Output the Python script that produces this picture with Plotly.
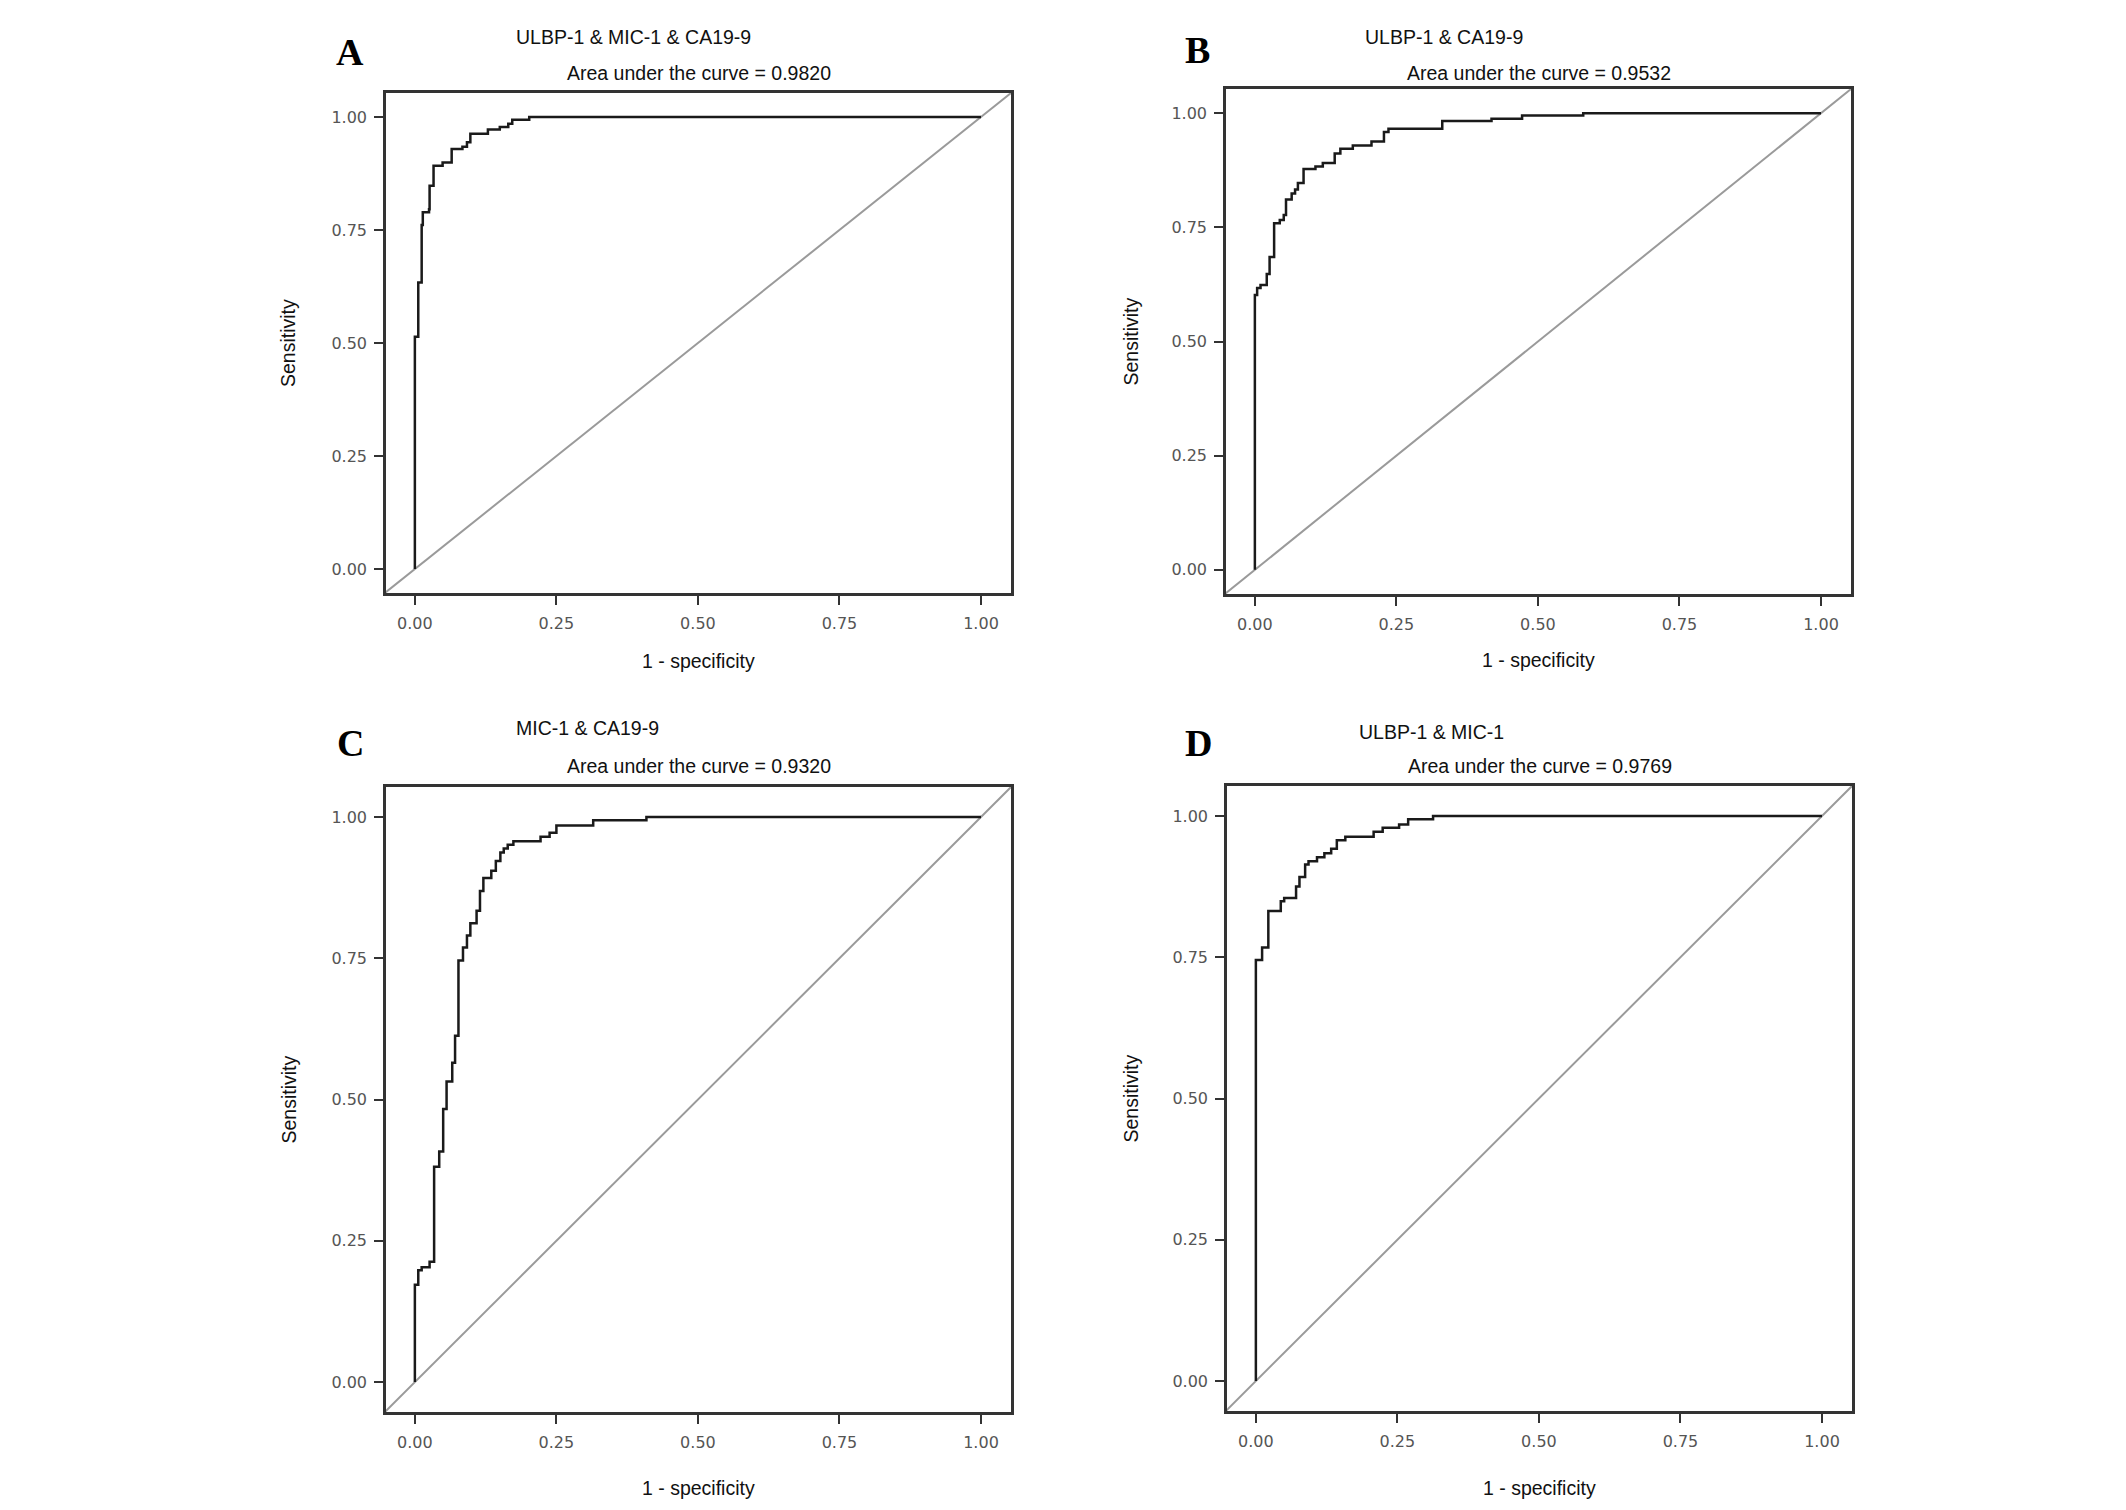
import plotly.graph_objects as go

# ROC curves (1 - specificity, sensitivity)
fpr_a = [0, 0, 0.006, 0.012, 0.014, 0.025, 0.026, 0.033, 0.049, 0.065, 0.084, 0.092,
         0.098, 0.129, 0.150, 0.165, 0.172, 0.202, 1.0]
tpr_a = [0, 0.514, 0.634, 0.761, 0.789, 0.796, 0.848, 0.892, 0.899, 0.929, 0.934, 0.944,
         0.963, 0.972, 0.978, 0.985, 0.994, 1.0, 1.0]

fpr_b = [0, 0, 0.004, 0.010, 0.021, 0.026, 0.034, 0.044, 0.051, 0.055, 0.065, 0.071,
         0.076, 0.086, 0.107, 0.120, 0.141, 0.151, 0.173, 0.206, 0.228, 0.236, 0.331,
         0.418, 0.472, 0.58, 1.0]
tpr_b = [0, 0.602, 0.617, 0.624, 0.648, 0.685, 0.759, 0.766, 0.777, 0.811, 0.824, 0.833,
         0.847, 0.878, 0.883, 0.891, 0.912, 0.922, 0.929, 0.938, 0.959, 0.966, 0.983,
         0.988, 0.995, 1.0, 1.0]

fpr_c = [0, 0, 0.006, 0.012, 0.026, 0.034, 0.043, 0.050, 0.056, 0.066, 0.071, 0.077,
         0.085, 0.092, 0.098, 0.109, 0.115, 0.121, 0.135, 0.143, 0.151, 0.157, 0.164,
         0.174, 0.222, 0.238, 0.250, 0.315, 0.409, 1.0]
tpr_c = [0, 0.172, 0.198, 0.203, 0.213, 0.381, 0.408, 0.483, 0.532, 0.565, 0.613, 0.746,
         0.769, 0.790, 0.812, 0.834, 0.869, 0.892, 0.905, 0.922, 0.937, 0.944, 0.951,
         0.957, 0.965, 0.972, 0.985, 0.994, 1.0, 1.0]

fpr_d = [0, 0, 0.011, 0.022, 0.044, 0.050, 0.071, 0.077, 0.087, 0.093, 0.108, 0.121,
         0.133, 0.143, 0.158, 0.208, 0.224, 0.253, 0.269, 0.313, 1.0]
tpr_d = [0, 0.745, 0.767, 0.832, 0.849, 0.855, 0.875, 0.892, 0.914, 0.920, 0.927, 0.934,
         0.942, 0.957, 0.963, 0.972, 0.979, 0.985, 0.994, 1.0, 1.0]

letters = ["A", "B", "C", "D"]
markers = ["ULBP-1 & MIC-1 & CA19-9", "ULBP-1 & CA19-9", "MIC-1 & CA19-9", "ULBP-1 & MIC-1"]
aucs = ["0.9820", "0.9532", "0.9320", "0.9769"]
tick_vals = [0, 0.25, 0.5, 0.75, 1.0]
tick_text = ["0.00", "0.25", "0.50", "0.75", "1.00"]
curves = [(fpr_a, tpr_a), (fpr_b, tpr_b), (fpr_c, tpr_c), (fpr_d, tpr_d)]

# page geometry (pixels in the 2126x1510 window); body has an 8px margin
W, H, OFF = 2110, 1494, 8


def fx(px):
    return (px - OFF) / W


def fy(py):
    return 1 - (py - OFF) / H


# plot boxes: left, right, top, bottom in window pixels
boxes = [(386, 1011, 93, 593), (1226, 1851, 89, 594),
         (386, 1011, 787, 1412), (1227, 1852, 786, 1411)]
letter_pos = [(350, 52), (1197, 50), (350, 743), (1198, 743)]
marker_pos = [(514, 37), (1363, 37), (514, 728), (1357, 732)]
auc_y = [73, 73, 766, 766]
sens_x = [288, 1130, 288, 1130]
xtitle_y = [661, 660, 1488, 1488]
xrng = [-0.051, 1.053]
yrng = [-0.053, 1.053]

fig = go.Figure()
layout = dict(width=W, height=H, margin=dict(l=0, r=0, t=0, b=0),
              paper_bgcolor="white", plot_bgcolor="white", showlegend=False,
              font=dict(family="Liberation Sans, Arial, sans-serif", color="#111"))
annotations = []
title_font = dict(family="Liberation Sans, Arial, sans-serif", size=19.5, color="#111")


def note(text, x, y, font, xanchor="center", **kw):
    return dict(text=text, x=fx(x), y=fy(y), xref="paper", yref="paper",
                xanchor=xanchor, yanchor="middle", showarrow=False, font=font, **kw)


for i, (box, (fpr, tpr)) in enumerate(zip(boxes, curves)):
    n = "" if i == 0 else str(i + 1)
    l, r, t, b = box
    ax = dict(showgrid=False, zeroline=False,
              showline=True, mirror=True, linecolor="#333", linewidth=2.5,
              ticks="outside", ticklen=9, tickwidth=2, tickcolor="#333",
              tickvals=tick_vals, ticktext=tick_text,
              tickfont=dict(family="DejaVu Sans, sans-serif", size=16, color="#555"))
    layout["xaxis" + n] = dict(ax, domain=[fx(l), fx(r)], range=xrng, anchor="y" + n,
                               ticklabelstandoff=5)
    layout["yaxis" + n] = dict(ax, domain=[fy(b), fy(t)], range=yrng, anchor="x" + n,
                               ticklabelstandoff=4)

    # reference diagonal runs corner to corner of the box
    fig.add_trace(go.Scatter(x=[-0.053, 1.053], y=[-0.053, 1.053], mode="lines",
                             xaxis="x" + n, yaxis="y" + n, cliponaxis=True,
                             line=dict(color="#9a9a9a", width=2), hoverinfo="skip"))
    fig.add_trace(go.Scatter(x=fpr, y=tpr, mode="lines", xaxis="x" + n, yaxis="y" + n,
                             line=dict(color="#1a1a1a", width=2.5, shape="hv")))

    cx = (l + r) / 2
    annotations.append(note("<b>%s</b>" % letters[i], *letter_pos[i],
                            dict(family="Liberation Serif, Times New Roman, serif",
                                 size=38, color="#000")))
    annotations.append(note(markers[i], *marker_pos[i], title_font, xanchor="left"))
    annotations.append(note("Area under the curve = " + aucs[i], cx, auc_y[i], title_font))
    annotations.append(note("Sensitivity", sens_x[i], (t + b) / 2, title_font, textangle=-90))
    annotations.append(note("1 - specificity", cx, xtitle_y[i], title_font))

layout["annotations"] = annotations
fig.update_layout(**layout)

fig.write_html("out.html")
